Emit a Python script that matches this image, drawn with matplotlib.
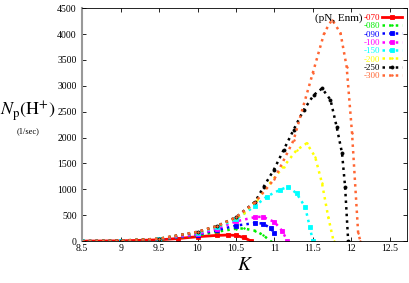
import matplotlib.pyplot as plt
import numpy as np

# Series
labels = ["-070", "-080", "-090", "-100", "-150", "-200", "-250", "-300"]
colors = ["#ff0000", "#00ee00", "#0000ff", "#ff00ff", "#00ffff", "#ffff00", "#000000", "#ff6633"]

k_070 = [8.5, 9.0, 9.5, 9.75, 10.0, 10.25, 10.4, 10.5, 10.6, 10.7]
n_070 = [0, 5, 25, 50, 85, 110, 118, 110, 70, 0]

k_080 = [8.5, 9.0, 9.5, 10.0, 10.25, 10.5, 10.6, 10.75, 10.85, 10.95]
n_080 = [0, 5, 30, 110, 180, 240, 245, 200, 120, 0]

k_090 = [8.5, 9.0, 9.5, 10.0, 10.25, 10.5, 10.75, 10.85, 10.95, 11.0]
n_090 = [0, 6, 35, 125, 210, 300, 350, 340, 250, 150]

k_100 = [8.5, 9.0, 9.5, 10.0, 10.25, 10.5, 10.75, 10.85, 11.0, 11.1, 11.17]
n_100 = [0, 7, 40, 130, 240, 380, 465, 470, 370, 200, 0]

k_150 = [8.5, 9.0, 9.5, 10.0, 10.25, 10.5, 10.75, 10.9, 11.07, 11.18, 11.29, 11.4, 11.46, 11.5]
n_150 = [0, 8, 45, 165, 270, 420, 680, 860, 990, 1050, 920, 660, 280, 0]

k_200 = [8.5, 9.0, 9.5, 10.0, 10.25, 10.5, 10.6, 10.77, 10.94, 11.12, 11.29, 11.42, 11.53, 11.62, 11.7, 11.77]
n_200 = [0, 9, 45, 175, 285, 450, 535, 790, 1115, 1440, 1760, 1890, 1630, 1115, 470, 0]

k_250 = [8.5, 9.0, 9.5, 10.0, 10.25, 10.5, 10.75, 10.86, 10.99, 11.12, 11.25, 11.38, 11.51, 11.62, 11.73, 11.81, 11.88, 11.92, 11.96]
n_250 = [0, 10, 45, 180, 290, 460, 760, 1050, 1370, 1760, 2150, 2530, 2820, 2950, 2730, 2210, 1700, 1050, 0]

k_300 = [8.5, 9.0, 9.5, 10.0, 10.25, 10.5, 10.75, 11.0, 11.25, 11.5, 11.65, 11.75, 11.86, 11.94, 12.01, 12.09, 12.12]
n_300 = [0, 10, 45, 180, 290, 460, 750, 1200, 1950, 3250, 4030, 4280, 4020, 3370, 2090, 150, 0]

ks = [k_070, k_080, k_090, k_100, k_150, k_200, k_250, k_300]
ns = [n_070, n_080, n_090, n_100, n_150, n_200, n_250, n_300]
styles = ["-", ":", ":", ":", ":", ":", ":", ":"]
markers = ["s", ".", "s", "s", "s", ".", "o", "."]

plt.rcParams['font.family'] = ['Liberation Serif', 'DejaVu Serif']
plt.rcParams['mathtext.fontset'] = 'stix'

fig = plt.figure(figsize=(4.09, 2.83), dpi=100)
ax = fig.add_axes([0.201, 0.148, 0.795, 0.823])

for k, n, lab, c, ls, m in zip(ks, ns, labels, colors, styles, markers):
    ax.plot(k, n, linestyle=ls, color=c, linewidth=2 if ls == "-" else 1.8,
            marker=m, markersize=2.2, markeredgewidth=0.6, label=lab)

ax.set_xlim(8.5, 12.73)
ax.set_ylim(0, 4500)
ax.set_xticks(np.arange(8.5, 12.6, 0.5))
ax.set_xticklabels(["8.5", "9", "9.5", "10", "10.5", "11", "11.5", "12", "12.5"])
ax.set_yticks(np.arange(0, 4501, 500))
ax.tick_params(direction='in', length=3, width=0.6, labelsize=7, top=True, right=True)
ax.tick_params(axis='x', pad=2)
ax.tick_params(axis='y', pad=4)

for s in ax.spines.values():
    s.set_linewidth(0.6)
ax.spines['left'].set_color('#999999')
ax.spines['left'].set_linewidth(1.5)

ax.set_xlabel("$K$", fontsize=14, labelpad=3)
fig.text(0.068, 0.605, r"$N_{\rm p}({\rm H}^{+})$", fontsize=13, ha='center', va='center')
fig.text(0.068, 0.535, "(1/sec)", fontsize=6, ha='center', va='center')

leg = ax.legend(loc='upper right', fontsize=6.5, frameon=False, handlelength=2.2,
                handletextpad=0.2, labelspacing=0.0, borderaxespad=0.2,
                markerfirst=False)
for t, c in zip(leg.get_texts(), colors):
    t.set_color(c)
ax.text(0.862, 0.955, "(pN, Enm)", transform=ax.transAxes, fontsize=8, ha='right', va='center')

fig.savefig("out.png", dpi=100)
